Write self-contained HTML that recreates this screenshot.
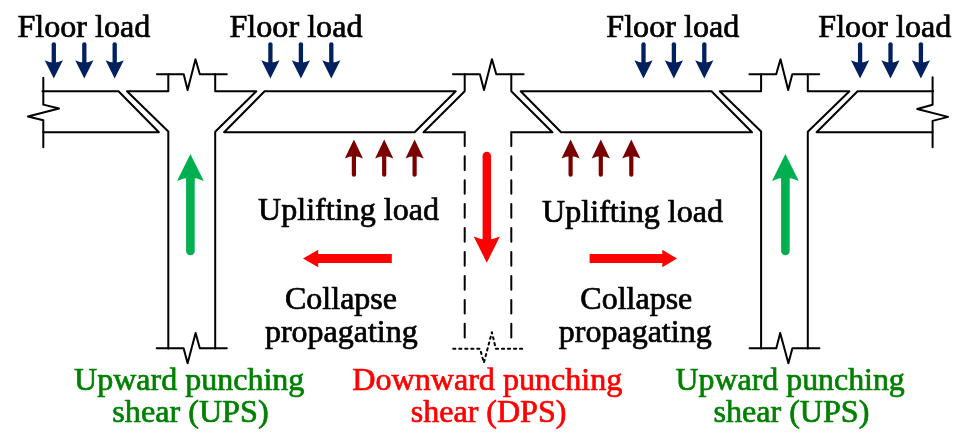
<!DOCTYPE html>
<html>
<head>
<meta charset="utf-8">
<title>Punching shear collapse propagation</title>
<style>
html,body{margin:0;padding:0;background:#ffffff;}
body{width:969px;height:446px;overflow:hidden;font-family:"Liberation Serif",serif;}
svg{display:block;position:absolute;left:0;top:0;will-change:transform;}
text{font-family:"Liberation Serif",serif;font-size:32px;stroke-width:0.7;stroke-linejoin:round;}
.tk{fill:#000;stroke:#000;}
.tg{fill:#008000;stroke:#008000;}
.tr{fill:#ff0000;stroke:#ff0000;}
.k{fill:none;stroke:#000;stroke-width:2;stroke-linecap:round;stroke-linejoin:round;}
.b{fill:none;stroke:#002060;stroke-width:4.3;stroke-linecap:round;}
.bh{fill:#002060;stroke:none;}
.m{fill:none;stroke:#7a0000;stroke-width:4.2;stroke-linecap:round;}
.mh{fill:#7a0000;stroke:none;}
.g{fill:none;stroke:#00b050;stroke-width:8.6;stroke-linecap:round;}
.gh{fill:#00b050;stroke:none;}
.r{fill:none;stroke:#ff0000;stroke-width:8.4;stroke-linecap:round;}
.rh{fill:#ff0000;stroke:none;}
</style>
</head>
<body>
<svg width="969" height="446" viewBox="0 0 969 446">

<g transform="translate(0,0.45)">
<!-- ===== Slab 1 (far left) ===== -->
<path class="k" d="M43.3,77.4 V104.2 L59,108.1 L27.9,116 L43.3,119.8 V146.8"/>
<path class="k" d="M42.4,90.8 H118.5 L158.9,131.8 H43.3"/>

<!-- ===== Left column ===== -->
<path class="k" d="M168.3,348 V131 L127,90.8 H168.3 V73.8"/>
<path class="k" d="M157,73.8 H183.7 L187.6,89.5 L195.5,58.7 L199.8,73.8 H226.8"/>
<path class="k" d="M215.2,73.8 V90.8 H256.3 L215.2,131.3 V348"/>
<path class="k" d="M156.7,347.9 H183.6 L187.6,362.8 L195.6,332.6 L199.8,347.9 H226.8"/>

<!-- ===== Slab 2 ===== -->
<path class="k" d="M264.6,90.8 H455.7 L414.6,131.8 H224.1 Z"/>

<!-- ===== Centre column ===== -->
<path class="k" d="M464.7,73.8 V90.8 L423.5,131.8 H464.7"/>
<path class="k" d="M453,73.8 H479.9 L484,89.5 L491.9,58.7 L496.3,73.8 H523.6"/>
<path class="k" d="M511.3,73.8 V90.8 L552.4,131.8 H511.3"/>
<path class="k" d="M464.7,131.8 V346" stroke-dasharray="13.7 10.25"/>
<path class="k" d="M511.3,131.8 V346" stroke-dasharray="13.7 10.25"/>
<path class="k" d="M453.2,348.3 H480 L483.9,362.3 L491.9,331.7 L495.8,348.3 H523.6" stroke-dasharray="2.2 3.81"/>

<!-- ===== Slab 3 ===== -->
<path class="k" d="M520.7,90.8 H711.5 L752,131.8 H561.1 Z"/>

<!-- ===== Right column ===== -->
<path class="k" d="M761.1,348 V131 L719.8,90.8 H761.1 V73.8"/>
<path class="k" d="M749.4,73.8 H776.2 L780.5,58.8 L788.2,89.5 L792.3,73.8 H819.2"/>
<path class="k" d="M807.8,73.8 V90.8 H849.4 L807.8,131.3 V348"/>
<path class="k" d="M749.6,347.9 H776.3 L780.2,332.6 L788.4,362.8 L792.4,347.9 H819.4"/>

<!-- ===== Slab 4 (far right) ===== -->
<path class="k" d="M933.2,90.8 H857.6 L816.6,131.8 H932.6"/>
<path class="k" d="M932.6,76.8 V104.3 L917.2,108.5 L948.1,116.4 L932.6,120.4 V146.9"/>

<!-- ===== Floor-load arrows ===== -->
<line class="b" x1="53.8" y1="43.90" x2="53.8" y2="64.10"/><path class="bh" d="M53.8,78.1 L44.70,59.90 Q53.8,64.50 62.90,59.90 Z"/>
<line class="b" x1="84.3" y1="43.90" x2="84.3" y2="64.10"/><path class="bh" d="M84.3,78.1 L75.20,59.90 Q84.3,64.50 93.40,59.90 Z"/>
<line class="b" x1="114.7" y1="43.90" x2="114.7" y2="64.10"/><path class="bh" d="M114.7,78.1 L105.60,59.90 Q114.7,64.50 123.80,59.90 Z"/>
<line class="b" x1="270.4" y1="43.90" x2="270.4" y2="64.10"/><path class="bh" d="M270.4,78.1 L261.30,59.90 Q270.4,64.50 279.50,59.90 Z"/>
<line class="b" x1="300.9" y1="43.90" x2="300.9" y2="64.10"/><path class="bh" d="M300.9,78.1 L291.80,59.90 Q300.9,64.50 310.00,59.90 Z"/>
<line class="b" x1="331.3" y1="43.90" x2="331.3" y2="64.10"/><path class="bh" d="M331.3,78.1 L322.20,59.90 Q331.3,64.50 340.40,59.90 Z"/>
<line class="b" x1="643.5" y1="43.90" x2="643.5" y2="64.10"/><path class="bh" d="M643.5,78.1 L634.40,59.90 Q643.5,64.50 652.60,59.90 Z"/>
<line class="b" x1="673.9" y1="43.90" x2="673.9" y2="64.10"/><path class="bh" d="M673.9,78.1 L664.80,59.90 Q673.9,64.50 683.00,59.90 Z"/>
<line class="b" x1="704.3" y1="43.90" x2="704.3" y2="64.10"/><path class="bh" d="M704.3,78.1 L695.20,59.90 Q704.3,64.50 713.40,59.90 Z"/>
<line class="b" x1="860.1" y1="43.90" x2="860.1" y2="64.10"/><path class="bh" d="M860.1,78.1 L851.00,59.90 Q860.1,64.50 869.20,59.90 Z"/>
<line class="b" x1="890.5" y1="43.90" x2="890.5" y2="64.10"/><path class="bh" d="M890.5,78.1 L881.40,59.90 Q890.5,64.50 899.60,59.90 Z"/>
<line class="b" x1="920.9" y1="43.90" x2="920.9" y2="64.10"/><path class="bh" d="M920.9,78.1 L911.80,59.90 Q920.9,64.50 930.00,59.90 Z"/>

<!-- ===== Uplift arrows ===== -->
<line class="m" x1="353.9" y1="174.30" x2="353.9" y2="154.10"/><path class="mh" d="M353.9,139.1 L344.80,158.00 Q353.9,153.40 363.00,158.00 Z"/>
<line class="m" x1="384.2" y1="174.30" x2="384.2" y2="154.10"/><path class="mh" d="M384.2,139.1 L375.10,158.00 Q384.2,153.40 393.30,158.00 Z"/>
<line class="m" x1="414.6" y1="174.30" x2="414.6" y2="154.10"/><path class="mh" d="M414.6,139.1 L405.50,158.00 Q414.6,153.40 423.70,158.00 Z"/>
<line class="m" x1="570.6" y1="174.30" x2="570.6" y2="154.10"/><path class="mh" d="M570.6,139.1 L561.50,158.00 Q570.6,153.40 579.70,158.00 Z"/>
<line class="m" x1="600.8" y1="174.30" x2="600.8" y2="154.10"/><path class="mh" d="M600.8,139.1 L591.70,158.00 Q600.8,153.40 609.90,158.00 Z"/>
<line class="m" x1="631.3" y1="174.30" x2="631.3" y2="154.10"/><path class="mh" d="M631.3,139.1 L622.20,158.00 Q631.3,153.40 640.40,158.00 Z"/>

<!-- ===== Green upward arrows ===== -->
<line class="g" x1="190.4" y1="250.6" x2="190.4" y2="174"/>
<path class="gh" d="M190.4,153.5 L177,180.5 Q190.4,174.2 203.8,180.5 Z"/>
<line class="g" x1="785.4" y1="250.6" x2="785.4" y2="174"/>
<path class="gh" d="M785.4,153.5 L772,180.5 Q785.4,174.2 798.8,180.5 Z"/>

<!-- ===== Red downward arrow ===== -->
<line class="r" x1="486.8" y1="155.4" x2="486.8" y2="243"/>
<path class="rh" d="M486.8,262.2 L473.7,236.1 Q486.8,242.2 499.9,236.1 Z"/>

<!-- ===== Red block arrows ===== -->
<path class="rh" d="M303,258.1 L318.2,249.3 V253.5 H391.8 V262.6 H318.2 V266.9 Z"/>
<path class="rh" d="M677,258.1 L662.3,249.3 V253.5 H589.6 V262.6 H662.3 V266.9 Z"/>

</g>
<!-- ===== Text ===== -->
<text class="tk" x="17.4" y="37.2" textLength="133" lengthAdjust="spacingAndGlyphs">Floor load</text>
<text class="tk" x="229.5" y="37.2" textLength="133" lengthAdjust="spacingAndGlyphs">Floor load</text>
<text class="tk" x="606.3" y="37.2" textLength="133" lengthAdjust="spacingAndGlyphs">Floor load</text>
<text class="tk" x="818.3" y="37.2" textLength="133" lengthAdjust="spacingAndGlyphs">Floor load</text>

<text class="tk" x="258" y="219.7" textLength="181" lengthAdjust="spacingAndGlyphs">Uplifting load</text>
<text class="tk" x="542.1" y="222.4" textLength="181" lengthAdjust="spacingAndGlyphs">Uplifting load</text>

<text class="tk" x="285" y="309.1">Collapse</text>
<text class="tk" x="264.9" y="341.6">propagating</text>
<text class="tk" x="580.3" y="309.2">Collapse</text>
<text class="tk" x="558.8" y="341.5">propagating</text>

<text class="tg" x="74.1" y="390.1">Upward punching</text>
<text class="tg" x="112.3" y="422" textLength="156.3" lengthAdjust="spacingAndGlyphs">shear (UPS)</text>
<text class="tr" x="352.3" y="390.4" textLength="270" lengthAdjust="spacingAndGlyphs">Downward punching</text>
<text class="tr" x="410.8" y="422.2">shear (DPS)</text>
<text class="tg" x="675.6" y="390.1" textLength="229.2" lengthAdjust="spacingAndGlyphs">Upward punching</text>
<text class="tg" x="713.4" y="422" textLength="156" lengthAdjust="spacingAndGlyphs">shear (UPS)</text>
</svg>
</body>
</html>
